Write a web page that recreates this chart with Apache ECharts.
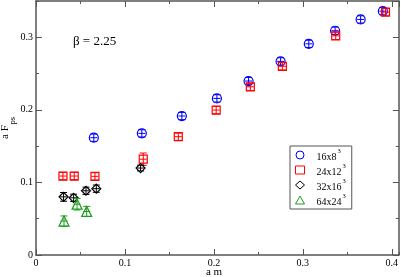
<!DOCTYPE html>
<html><head><meta charset="utf-8">
<script src="https://cdn.jsdelivr.net/npm/echarts@6/dist/echarts.min.js"></script>
<style>html,body{margin:0;padding:0;background:#fff}#c{width:401px;height:277px}</style>
</head><body><div id="c"></div>
<script>
// ---- data ----
const seriesNames = ['16x8', '24x12', '32x16', '64x24'];
const blueX = [0.065, 0.119, 0.164, 0.2034, 0.239, 0.275, 0.3067, 0.3363, 0.365, 0.39];
const blueY = [0.1616, 0.1676, 0.1915, 0.2158, 0.2397, 0.2668, 0.291, 0.309, 0.3246, 0.336];
const blueE = [0.005, 0.005, 0.005, 0.005, 0.005, 0.005, 0.005, 0.005, 0.005, 0.005];
const redX = [0.0303, 0.043, 0.0663, 0.1206, 0.160, 0.2026, 0.241, 0.277, 0.337, 0.393];
const redY = [0.1088, 0.1088, 0.1084, 0.132, 0.163, 0.1997, 0.2318, 0.260, 0.302, 0.3347];
const redE = [0.005, 0.005, 0.005, 0.0085, 0.005, 0.005, 0.005, 0.005, 0.005, 0.005];
const blackX = [0.031, 0.0423, 0.0562, 0.0678, 0.1176];
const blackY = [0.0801, 0.0788, 0.0885, 0.0914, 0.1198];
const blackE = [0.006, 0.005, 0.005, 0.005, 0.004];
const greenX = [0.0315, 0.0462, 0.057];
const greenY = [0.0468, 0.0700, 0.0600];
const greenE = [0.007, 0.008, 0.007];
const xTicks = [0, 0.1, 0.2, 0.3, 0.4];
const yTicks = [0, 0.1, 0.2, 0.3];

const colors = ['#0000ff', '#ff0000', '#000000', '#1c9c1c'];
const symbols = ['circle', 'rect', 'diamond', 'triangle'];
const sizes = [9, 8, 9, 10];
const sets = [[blueX, blueY, blueE], [redX, redY, redE], [blackX, blackY, blackE], [greenX, greenY, greenE]];

const FONT = 'Liberation Serif';
const AX = '#555';

function mk(xs, ys, es) { return xs.map((x, i) => [x, ys[i], es[i]]); }
function errRender(color, half) {
  return function (params, api) {
    const x = api.value(0), y = api.value(1), e = api.value(2);
    const c = api.coord([x, y]);
    const top = api.coord([x, y + e])[1];
    const bot = api.coord([x, y - e])[1];
    const st = { stroke: color, lineWidth: 1, fill: null };
    return { type: 'group', children: [
      { type: 'line', shape: { x1: c[0], y1: top, x2: c[0], y2: bot }, style: st },
      { type: 'line', shape: { x1: c[0] - half, y1: top, x2: c[0] + half, y2: top }, style: st },
      { type: 'line', shape: { x1: c[0] - half, y1: bot, x2: c[0] + half, y2: bot }, style: st },
      { type: 'line', shape: { x1: c[0] - half, y1: c[1], x2: c[0] + half, y2: c[1] }, style: st }
    ] };
  };
}

const series = [];
sets.forEach((s, i) => {
  series.push({
    type: 'custom', name: seriesNames[i] + '_err', xAxisIndex: 0, yAxisIndex: 0,
    renderItem: errRender(colors[i], 3.5), data: mk(s[0], s[1], s[2]), z: 3 + i,
    encode: { x: 0, y: 1 }, silent: true
  });
  series.push({
    type: 'scatter', name: seriesNames[i], xAxisIndex: 0, yAxisIndex: 0,
    symbol: symbols[i], symbolSize: sizes[i], data: mk(s[0], s[1], s[2]), z: 3 + i,
    itemStyle: { color: 'rgba(0,0,0,0)', borderColor: colors[i], borderWidth: 1.2, opacity: 1 }
  });
});

const XMIN = 0, XMAX = 0.408, YMIN = 0, YMAX = 0.35;
function xa(pos, interval, len, labels, line) {
  return {
    type: 'value', position: pos, min: XMIN, max: XMAX, interval: interval,
    axisLine: { show: line, onZero: false, lineStyle: { color: AX, width: 1.5 } },
    axisTick: { show: true, inside: true, length: len, lineStyle: { color: AX, width: 1 } },
    axisLabel: { show: labels, showMaxLabel: false, margin: 3, fontFamily: FONT, fontSize: 10, color: '#000',
      formatter: v => { const t = xTicks.find(k => Math.abs(k - v) < 1e-9); return t === undefined ? '' : (t === 0 ? '0' : t.toFixed(1)); } },
    splitLine: { show: false }
  };
}
function ya(pos, interval, len, labels, line) {
  return {
    type: 'value', position: pos, min: YMIN, max: YMAX, interval: interval,
    axisLine: { show: line, onZero: false, lineStyle: { color: AX, width: 1.5 } },
    axisTick: { show: true, inside: true, length: len, lineStyle: { color: AX, width: 1 } },
    axisLabel: { show: labels, showMaxLabel: false, margin: 3, fontFamily: FONT, fontSize: 10, color: '#000',
      formatter: v => { const t = yTicks.find(k => Math.abs(k - v) < 1e-9); return t === undefined ? '' : (t === 0 ? '0' : t.toFixed(1)); } },
    splitLine: { show: false }
  };
}

const option = {
  animation: false,
  backgroundColor: '#fff',
  grid: { left: 36, right: 2, top: 1, bottom: 22, containLabel: false },
  xAxis: [xa('bottom', 0.1, 6, true, true), xa('bottom', 0.05, 3, false, false),
          xa('top', 0.1, 6, false, true), xa('top', 0.05, 3, false, false)],
  yAxis: [ya('left', 0.1, 6, true, true), ya('left', 0.05, 3, false, false),
          ya('right', 0.1, 6, false, true), ya('right', 0.05, 3, false, false)],
  legend: {
    data: seriesNames.map((n, i) => ({ name: n, icon: symbols[i], itemStyle: { borderWidth: 1 } })),
    orient: 'vertical', left: 290, top: 146,
    itemWidth: 9, itemHeight: 8, itemGap: 1,
    padding: [2, 6, 2, 5],
    borderColor: AX, borderWidth: 1, backgroundColor: '#fff',
    selectedMode: false,
    formatter: n => '{g|}{n|' + n + '}{s|3}',
    textStyle: {
      fontFamily: FONT, fontSize: 10, color: '#000',
      rich: {
        g: { width: 7 },
        n: { fontFamily: FONT, fontSize: 10, lineHeight: 14, verticalAlign: 'bottom' },
        s: { fontFamily: FONT, fontSize: 6.5, lineHeight: 6, verticalAlign: 'top', padding: [0, 0, 0, 1] }
      }
    }
  },
  graphic: [
    { type: 'text', left: 73, top: 35, style: { text: 'β = 2.25', font: '13px "' + FONT + '"', fill: '#000' } },
    { type: 'text', x: 214, y: 272.5, style: { text: 'a m', font: '11px "' + FONT + '"', fill: '#000', align: 'center', verticalAlign: 'middle' } },
    { type: 'group', x: 0, y: 139, rotation: Math.PI / 2, children: [
      { type: 'text', x: 0, y: 5.5, style: { text: 'a F', font: '11px "' + FONT + '"', fill: '#000', align: 'left', verticalAlign: 'middle' } },
      { type: 'text', x: 14.5, y: 12.5, style: { text: 'ps', font: '8.5px "' + FONT + '"', fill: '#000', align: 'left', verticalAlign: 'middle' } }
    ] }
  ],
  series: series
};
const chart = echarts.init(document.getElementById('c'), null, { renderer: 'canvas' });
chart.setOption(option);
</script></body></html>
